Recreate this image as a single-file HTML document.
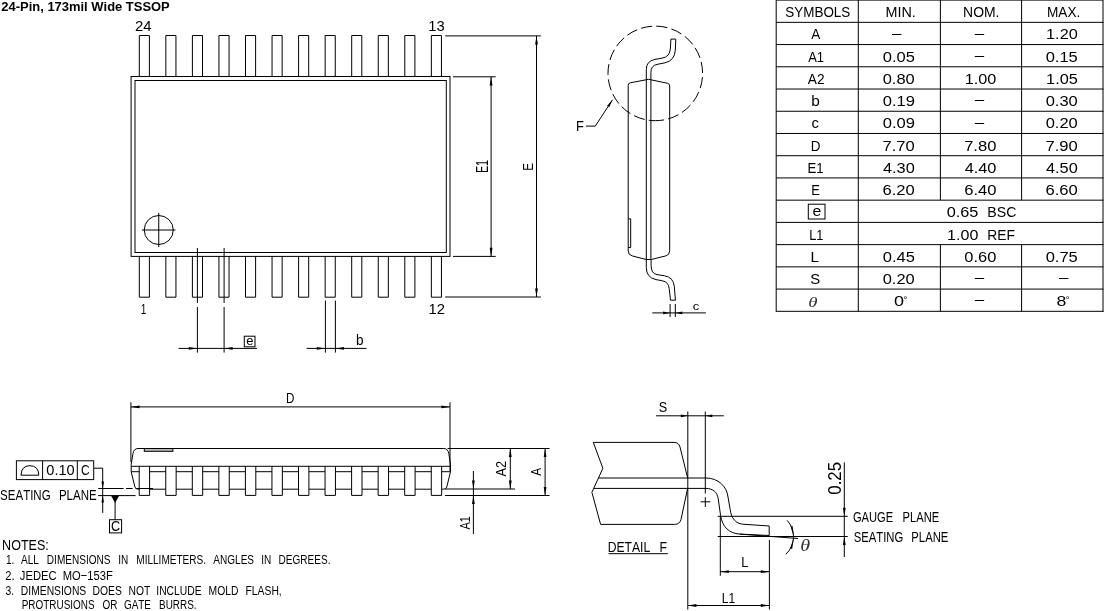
<!DOCTYPE html>
<html lang="en">
<head>
<meta charset="utf-8">
<title>24-Pin, 173mil Wide TSSOP</title>
<style>
html,body{margin:0;padding:0;background:#fff;}
body{width:1104px;height:611px;overflow:hidden;}
svg{display:block;filter:grayscale(1);}
svg g{fill:none;stroke:#000;stroke-width:1;}
svg text{stroke:none;font-kerning:none;white-space:pre;}
</style>
</head>
<body>
<svg width="1104" height="611" viewBox="0 0 1104 611">
<rect x="0" y="0" width="1104" height="611" fill="#fff" stroke="none"/>
<text transform="translate(1.80 10.90) rotate(0) scale(0.9898 1)" x="-0.46" y="0" font-size="13.09" fill="#000" font-family='"Liberation Sans", sans-serif' font-weight="bold">24-Pin, 173mil Wide TSSOP</text>
<g id="topview">
<rect x="131.10" y="76.50" width="318.90" height="179.90"/>
<rect x="135.00" y="80.50" width="311.30" height="172.00"/>
<path d="M139.30 76.5V35.5H149.40V76.5"/>
<path d="M139.30 256.3V297.2H149.40V256.3"/>
<path d="M165.85 76.5V35.5H175.95V76.5"/>
<path d="M165.85 256.3V297.2H175.95V256.3"/>
<path d="M192.40 76.5V35.5H202.50V76.5"/>
<path d="M192.40 256.3V297.2H202.50V256.3"/>
<path d="M218.95 76.5V35.5H229.05V76.5"/>
<path d="M218.95 256.3V297.2H229.05V256.3"/>
<path d="M245.50 76.5V35.5H255.60V76.5"/>
<path d="M245.50 256.3V297.2H255.60V256.3"/>
<path d="M272.05 76.5V35.5H282.15V76.5"/>
<path d="M272.05 256.3V297.2H282.15V256.3"/>
<path d="M298.60 76.5V35.5H308.70V76.5"/>
<path d="M298.60 256.3V297.2H308.70V256.3"/>
<path d="M325.15 76.5V35.5H335.25V76.5"/>
<path d="M325.15 256.3V297.2H335.25V256.3"/>
<path d="M351.70 76.5V35.5H361.80V76.5"/>
<path d="M351.70 256.3V297.2H361.80V256.3"/>
<path d="M378.25 76.5V35.5H388.35V76.5"/>
<path d="M378.25 256.3V297.2H388.35V256.3"/>
<path d="M404.80 76.5V35.5H414.90V76.5"/>
<path d="M404.80 256.3V297.2H414.90V256.3"/>
<path d="M431.35 76.5V35.5H441.45V76.5"/>
<path d="M431.35 256.3V297.2H441.45V256.3"/>
<circle cx="158.75" cy="230" r="14.5"/>
<line x1="142.00" y1="230.00" x2="175.50" y2="230.00"/>
<line x1="158.75" y1="213.00" x2="158.75" y2="247.00"/>
<line x1="453.00" y1="76.80" x2="495.70" y2="76.80"/>
<line x1="453.00" y1="256.40" x2="495.70" y2="256.40"/>
<line x1="491.10" y1="76.80" x2="491.10" y2="256.40"/>
<polygon points="491.10,76.80 492.50,85.40 489.70,85.40" fill="#000" stroke="none"/>
<polygon points="491.10,256.40 489.70,247.80 492.50,247.80" fill="#000" stroke="none"/>
<line x1="445.20" y1="35.90" x2="540.80" y2="35.90"/>
<line x1="445.20" y1="297.00" x2="540.80" y2="297.00"/>
<line x1="536.50" y1="35.90" x2="536.50" y2="297.00"/>
<polygon points="536.50,35.90 537.90,44.50 535.10,44.50" fill="#000" stroke="none"/>
<polygon points="536.50,297.00 535.10,288.40 537.90,288.40" fill="#000" stroke="none"/>
<line x1="197.40" y1="248.00" x2="197.40" y2="303.00"/>
<line x1="197.40" y1="307.00" x2="197.40" y2="352.60"/>
<line x1="224.10" y1="248.00" x2="224.10" y2="303.00"/>
<line x1="224.10" y1="307.00" x2="224.10" y2="352.60"/>
<line x1="178.60" y1="348.40" x2="257.00" y2="348.40"/>
<polygon points="197.40,348.40 188.80,349.80 188.80,347.00" fill="#000" stroke="none"/>
<polygon points="224.10,348.40 232.70,347.00 232.70,349.80" fill="#000" stroke="none"/>
<rect x="244.30" y="336.20" width="10.70" height="10.60"/>
<line x1="325.40" y1="300.50" x2="325.40" y2="352.60"/>
<line x1="335.40" y1="300.50" x2="335.40" y2="352.60"/>
<line x1="306.70" y1="348.40" x2="366.50" y2="348.40"/>
<polygon points="325.40,348.40 316.80,349.80 316.80,347.00" fill="#000" stroke="none"/>
<polygon points="335.40,348.40 344.00,347.00 344.00,349.80" fill="#000" stroke="none"/>
</g>
<text transform="translate(135.70 31.40) rotate(0) scale(0.9766 1)" x="-0.76" y="0" font-size="15.27" fill="#000" font-family='"Liberation Sans", sans-serif'>24</text>
<text transform="translate(429.30 31.40) rotate(0) scale(0.9698 1)" x="-1.15" y="0" font-size="15.27" fill="#000" font-family='"Liberation Sans", sans-serif'>13</text>
<text transform="translate(141.60 313.60) rotate(0) scale(0.6661 1)" x="-1.15" y="0" font-size="15.27" fill="#000" font-family='"Liberation Sans", sans-serif'>1</text>
<text transform="translate(429.70 313.60) rotate(0) scale(0.9705 1)" x="-1.15" y="0" font-size="15.27" fill="#000" font-family='"Liberation Sans", sans-serif'>12</text>
<text transform="translate(487.90 172.20) rotate(-90) scale(0.6751 1)" x="-1.32" y="0" font-size="16.00" fill="#000" font-family='"Liberation Sans", sans-serif'>E1</text>
<text transform="translate(532.90 169.70) rotate(-90) scale(0.7532 1)" x="-1.27" y="0" font-size="15.42" fill="#000" font-family='"Liberation Sans", sans-serif'>E</text>
<text transform="translate(246.80 344.87) rotate(0) scale(1.0151 1)" x="-0.54" y="0" font-size="12.79" fill="#000" font-family='"Liberation Sans", sans-serif'>e</text>
<text transform="translate(356.80 344.56) rotate(0) scale(0.9673 1)" x="-0.91" y="0" font-size="14.01" fill="#000" font-family='"Liberation Sans", sans-serif'>b</text>
<g id="endview">
<circle cx="655.3" cy="73.4" r="47.3" stroke-dasharray="11.2 4.2" stroke-dashoffset="4.65" transform="rotate(90 655.3 73.4)"/>
<path d="M628.2 250.8V85.3Q628.2 83.2 630.3 82.8L648.6 79.3L667.6 83.3Q669.7 83.8 669.7 86V250.8Q669.7 255.0 665.7 255.9L651.3 259.5H646.2L632.2 255.9Q628.2 255.0 628.2 250.8Z"/>
<path d="M628.2 218.8H630.7V247.5H628.2"/>
<path d="M646.3 259V69.5Q646.3 61 655 59.4L662 58.2Q670.2 56.8 670.4 48L670.9 39.1H675.8L675.3 50Q674.8 60.5 665 62.8L657 64.4Q650.9 65.6 650.9 72.5V259"/>
<path d="M646.3 259V267.5Q646.3 277.5 656 279.6L662.5 280.8Q668.5 282 669.2 288.5L670.5 300.2H675.4L674.3 286.5Q673.5 277.3 664.5 275.8L657 274.6Q651.1 273.6 651.1 265.4V259"/>
<line x1="586.00" y1="126.10" x2="595.30" y2="126.10"/>
<line x1="595.30" y1="126.10" x2="612.50" y2="99.80"/>
<line x1="670.10" y1="304.00" x2="670.10" y2="317.00"/>
<line x1="675.30" y1="304.00" x2="675.30" y2="317.00"/>
<line x1="652.30" y1="312.90" x2="705.90" y2="312.90"/>
<polygon points="670.10,312.90 663.10,314.30 663.10,311.50" fill="#000" stroke="none"/>
<polygon points="675.30,312.90 682.30,311.50 682.30,314.30" fill="#000" stroke="none"/>
</g>
<polygon points="612.50,99.80 609.17,107.18 607.08,105.81" fill="#000" stroke="none"/>
<text transform="translate(577.10 131.30) rotate(0) scale(0.8710 1)" x="-1.22" y="0" font-size="14.84" fill="#000" font-family='"Liberation Sans", sans-serif'>F</text>
<text transform="translate(693.20 310.48) rotate(0) scale(1.1318 1)" x="-0.49" y="0" font-size="11.51" fill="#000" font-family='"Liberation Sans", sans-serif'>c</text>
<g id="table">
<line x1="776.20" y1="0.10" x2="1103.00" y2="0.10"/>
<line x1="776.20" y1="22.33" x2="1103.50" y2="22.33"/>
<line x1="776.20" y1="44.56" x2="1103.50" y2="44.56"/>
<line x1="776.20" y1="66.79" x2="1103.50" y2="66.79"/>
<line x1="776.20" y1="89.02" x2="1103.50" y2="89.02"/>
<line x1="776.20" y1="111.25" x2="1103.50" y2="111.25"/>
<line x1="776.20" y1="133.48" x2="1103.50" y2="133.48"/>
<line x1="776.20" y1="155.71" x2="1103.50" y2="155.71"/>
<line x1="776.20" y1="177.94" x2="1103.50" y2="177.94"/>
<line x1="776.20" y1="200.17" x2="1103.50" y2="200.17"/>
<line x1="776.20" y1="222.40" x2="1103.50" y2="222.40"/>
<line x1="776.20" y1="244.63" x2="1103.50" y2="244.63"/>
<line x1="776.20" y1="266.86" x2="1103.50" y2="266.86"/>
<line x1="776.20" y1="289.09" x2="1103.50" y2="289.09"/>
<line x1="776.20" y1="311.32" x2="1103.50" y2="311.32"/>
<line x1="776.20" y1="0.00" x2="776.20" y2="311.82"/>
<line x1="1103.00" y1="0.00" x2="1103.00" y2="311.82"/>
<line x1="858.30" y1="0.00" x2="858.30" y2="311.32"/>
<line x1="940.40" y1="0.00" x2="940.40" y2="200.17"/>
<line x1="940.40" y1="244.63" x2="940.40" y2="311.32"/>
<line x1="1021.60" y1="0.00" x2="1021.60" y2="200.17"/>
<line x1="1021.60" y1="244.63" x2="1021.60" y2="311.32"/>
</g>
<text transform="translate(785.90 17.22) rotate(0) scale(0.8893 1)" x="-0.68" y="0" font-size="15.13" fill="#000" font-family='"Liberation Sans", sans-serif'>SYMBOLS</text>
<text transform="translate(886.70 17.22) rotate(0) scale(0.9485 1)" x="-1.25" y="0" font-size="15.13" fill="#000" font-family='"Liberation Sans", sans-serif'>MIN.</text>
<text transform="translate(964.20 17.22) rotate(0) scale(0.9221 1)" x="-1.25" y="0" font-size="15.13" fill="#000" font-family='"Liberation Sans", sans-serif'>NOM.</text>
<text transform="translate(1048.10 17.22) rotate(0) scale(0.9018 1)" x="-1.25" y="0" font-size="15.13" fill="#000" font-family='"Liberation Sans", sans-serif'>MAX.</text>
<text transform="translate(811.30 39.45) rotate(0) scale(0.8980 1)" x="-0.04" y="0" font-size="15.13" fill="#000" font-family='"Liberation Sans", sans-serif'>A</text>
<text transform="translate(892.00 37.61) rotate(0) scale(1.1416 1)" x="-0.00" y="0" font-size="14.84" fill="#000" font-family='"Liberation Sans", sans-serif'>–</text>
<text transform="translate(974.70 37.61) rotate(0) scale(1.1416 1)" x="-0.00" y="0" font-size="14.84" fill="#000" font-family='"Liberation Sans", sans-serif'>–</text>
<text transform="translate(1047.30 39.45) rotate(0) scale(1.0750 1)" x="-1.13" y="0" font-size="15.13" fill="#000" font-family='"Liberation Sans", sans-serif'>1.20</text>
<text transform="translate(808.20 61.67) rotate(0) scale(0.8570 1)" x="-0.04" y="0" font-size="15.13" fill="#000" font-family='"Liberation Sans", sans-serif'>A1</text>
<text transform="translate(883.35 61.67) rotate(0) scale(1.0917 1)" x="-0.61" y="0" font-size="15.13" fill="#000" font-family='"Liberation Sans", sans-serif'>0.05</text>
<text transform="translate(974.70 59.84) rotate(0) scale(1.1416 1)" x="-0.00" y="0" font-size="14.84" fill="#000" font-family='"Liberation Sans", sans-serif'>–</text>
<text transform="translate(1046.30 61.67) rotate(0) scale(1.0917 1)" x="-0.61" y="0" font-size="15.13" fill="#000" font-family='"Liberation Sans", sans-serif'>0.15</text>
<text transform="translate(807.80 83.91) rotate(0) scale(0.9040 1)" x="-0.04" y="0" font-size="15.13" fill="#000" font-family='"Liberation Sans", sans-serif'>A2</text>
<text transform="translate(883.35 83.91) rotate(0) scale(1.0903 1)" x="-0.61" y="0" font-size="15.13" fill="#000" font-family='"Liberation Sans", sans-serif'>0.80</text>
<text transform="translate(966.00 83.91) rotate(0) scale(1.0750 1)" x="-1.13" y="0" font-size="15.13" fill="#000" font-family='"Liberation Sans", sans-serif'>1.00</text>
<text transform="translate(1047.30 83.91) rotate(0) scale(1.0765 1)" x="-1.13" y="0" font-size="15.13" fill="#000" font-family='"Liberation Sans", sans-serif'>1.05</text>
<text transform="translate(812.20 105.96) rotate(0) scale(1.0942 1)" x="-0.91" y="0" font-size="14.01" fill="#000" font-family='"Liberation Sans", sans-serif'>b</text>
<text transform="translate(883.35 106.13) rotate(0) scale(1.0947 1)" x="-0.61" y="0" font-size="15.13" fill="#000" font-family='"Liberation Sans", sans-serif'>0.19</text>
<text transform="translate(974.70 104.30) rotate(0) scale(1.1416 1)" x="-0.00" y="0" font-size="14.84" fill="#000" font-family='"Liberation Sans", sans-serif'>–</text>
<text transform="translate(1046.30 106.13) rotate(0) scale(1.0903 1)" x="-0.61" y="0" font-size="15.13" fill="#000" font-family='"Liberation Sans", sans-serif'>0.30</text>
<text transform="translate(812.20 128.05) rotate(0) scale(1.0186 1)" x="-0.62" y="0" font-size="14.61" fill="#000" font-family='"Liberation Sans", sans-serif'>c</text>
<text transform="translate(883.35 128.37) rotate(0) scale(1.0947 1)" x="-0.61" y="0" font-size="15.13" fill="#000" font-family='"Liberation Sans", sans-serif'>0.09</text>
<text transform="translate(974.70 126.53) rotate(0) scale(1.1416 1)" x="-0.00" y="0" font-size="14.84" fill="#000" font-family='"Liberation Sans", sans-serif'>–</text>
<text transform="translate(1046.30 128.37) rotate(0) scale(1.0903 1)" x="-0.61" y="0" font-size="15.13" fill="#000" font-family='"Liberation Sans", sans-serif'>0.20</text>
<text transform="translate(811.80 150.59) rotate(0) scale(0.8926 1)" x="-1.25" y="0" font-size="15.13" fill="#000" font-family='"Liberation Sans", sans-serif'>D</text>
<text transform="translate(883.35 150.59) rotate(0) scale(1.0976 1)" x="-0.79" y="0" font-size="15.13" fill="#000" font-family='"Liberation Sans", sans-serif'>7.70</text>
<text transform="translate(965.00 150.59) rotate(0) scale(1.0976 1)" x="-0.79" y="0" font-size="15.13" fill="#000" font-family='"Liberation Sans", sans-serif'>7.80</text>
<text transform="translate(1046.30 150.59) rotate(0) scale(1.0976 1)" x="-0.79" y="0" font-size="15.13" fill="#000" font-family='"Liberation Sans", sans-serif'>7.90</text>
<text transform="translate(808.60 172.82) rotate(0) scale(0.8713 1)" x="-1.25" y="0" font-size="15.13" fill="#000" font-family='"Liberation Sans", sans-serif'>E1</text>
<text transform="translate(883.35 172.82) rotate(0) scale(1.0801 1)" x="-0.34" y="0" font-size="15.13" fill="#000" font-family='"Liberation Sans", sans-serif'>4.30</text>
<text transform="translate(965.00 172.82) rotate(0) scale(1.0801 1)" x="-0.34" y="0" font-size="15.13" fill="#000" font-family='"Liberation Sans", sans-serif'>4.40</text>
<text transform="translate(1046.30 172.82) rotate(0) scale(1.0801 1)" x="-0.34" y="0" font-size="15.13" fill="#000" font-family='"Liberation Sans", sans-serif'>4.50</text>
<text transform="translate(812.30 195.06) rotate(0) scale(0.8530 1)" x="-1.25" y="0" font-size="15.13" fill="#000" font-family='"Liberation Sans", sans-serif'>E</text>
<text transform="translate(883.35 195.06) rotate(0) scale(1.0961 1)" x="-0.76" y="0" font-size="15.13" fill="#000" font-family='"Liberation Sans", sans-serif'>6.20</text>
<text transform="translate(965.00 195.06) rotate(0) scale(1.0961 1)" x="-0.76" y="0" font-size="15.13" fill="#000" font-family='"Liberation Sans", sans-serif'>6.40</text>
<text transform="translate(1046.30 195.06) rotate(0) scale(1.0961 1)" x="-0.76" y="0" font-size="15.13" fill="#000" font-family='"Liberation Sans", sans-serif'>6.60</text>
<rect x="808.3" y="204.2" width="16.7" height="14.8" fill="none" stroke="#000"/>
<text transform="translate(813.20 216.06) rotate(0) scale(1.1201 1)" x="-0.61" y="0" font-size="14.25" fill="#000" font-family='"Liberation Sans", sans-serif'>e</text>
<text transform="translate(947.30 217.48) rotate(0) scale(1.0987 1)" x="-0.59" y="0" font-size="14.84" fill="#000" font-family='"Liberation Sans", sans-serif'>0.65</text>
<text transform="translate(988.50 217.48) rotate(0) scale(0.9544 1)" x="-1.22" y="0" font-size="14.84" fill="#000" font-family='"Liberation Sans", sans-serif'>BSC</text>
<text transform="translate(810.25 239.51) rotate(0) scale(0.8432 1)" x="-1.25" y="0" font-size="15.13" fill="#000" font-family='"Liberation Sans", sans-serif'>L1</text>
<text transform="translate(948.30 239.71) rotate(0) scale(1.0814 1)" x="-1.11" y="0" font-size="14.84" fill="#000" font-family='"Liberation Sans", sans-serif'>1.00</text>
<text transform="translate(988.50 239.71) rotate(0) scale(0.9334 1)" x="-1.22" y="0" font-size="14.84" fill="#000" font-family='"Liberation Sans", sans-serif'>REF</text>
<text transform="translate(811.85 261.75) rotate(0) scale(1.0066 1)" x="-1.25" y="0" font-size="15.13" fill="#000" font-family='"Liberation Sans", sans-serif'>L</text>
<text transform="translate(883.35 261.75) rotate(0) scale(1.0917 1)" x="-0.61" y="0" font-size="15.13" fill="#000" font-family='"Liberation Sans", sans-serif'>0.45</text>
<text transform="translate(965.00 261.75) rotate(0) scale(1.0903 1)" x="-0.61" y="0" font-size="15.13" fill="#000" font-family='"Liberation Sans", sans-serif'>0.60</text>
<text transform="translate(1046.30 261.75) rotate(0) scale(1.0917 1)" x="-0.61" y="0" font-size="15.13" fill="#000" font-family='"Liberation Sans", sans-serif'>0.75</text>
<text transform="translate(811.00 283.98) rotate(0) scale(0.9887 1)" x="-0.68" y="0" font-size="15.13" fill="#000" font-family='"Liberation Sans", sans-serif'>S</text>
<text transform="translate(883.35 283.98) rotate(0) scale(1.0903 1)" x="-0.61" y="0" font-size="15.13" fill="#000" font-family='"Liberation Sans", sans-serif'>0.20</text>
<text transform="translate(974.70 282.14) rotate(0) scale(1.1416 1)" x="-0.00" y="0" font-size="14.84" fill="#000" font-family='"Liberation Sans", sans-serif'>–</text>
<text transform="translate(1058.90 282.14) rotate(0) scale(1.1416 1)" x="-0.00" y="0" font-size="14.84" fill="#000" font-family='"Liberation Sans", sans-serif'>–</text>
<text transform="translate(809.30 307.06) rotate(0) scale(1.3171 1)" x="-0.72" y="0" font-size="14.37" fill="#333" font-family='"Liberation Serif", serif' font-style="italic">θ</text>
<text transform="translate(894.80 306.31) scale(1.2139 1)" font-size="14.84" fill="#000" font-family='"Liberation Sans", sans-serif'><tspan x="-0.59" y="0">0</tspan><tspan x="7.05" y="-3.5" font-size="8.73">°</tspan></text>
<text transform="translate(974.70 304.37) rotate(0) scale(1.1416 1)" x="-0.00" y="0" font-size="14.84" fill="#000" font-family='"Liberation Sans", sans-serif'>–</text>
<text transform="translate(1057.30 306.31) scale(1.1903 1)" font-size="14.84" fill="#000" font-family='"Liberation Sans", sans-serif'><tspan x="-0.63" y="0">8</tspan><tspan x="6.95" y="-3.5" font-size="8.73">°</tspan></text>
<g id="sideview">
<line x1="130.90" y1="402.30" x2="130.90" y2="462.00"/>
<line x1="450.00" y1="402.30" x2="450.00" y2="471.00"/>
<line x1="130.90" y1="406.90" x2="450.00" y2="406.90"/>
<polygon points="130.90,406.90 139.50,405.50 139.50,408.30" fill="#000" stroke="none"/>
<polygon points="450.00,406.90 441.40,408.30 441.40,405.50" fill="#000" stroke="none"/>
<path d="M138.5 489.2Q135.6 489.2 134.9 487L131.2 471.7V464.5L133.0 453.5Q133.9 448.5 138.0 448.5H443.8Q447.9 448.5 448.8 453.5L450.5 464.5V471.7L446.8 487Q446.1 489.2 443.2 489.2"/>
<rect x="144.3" y="448.5" width="28.6" height="2.8" fill="#bbb" stroke="#000"/>
<line x1="131.20" y1="466.30" x2="450.50" y2="466.30"/>
<line x1="131.20" y1="471.70" x2="139.20" y2="471.70"/>
<line x1="149.60" y1="471.70" x2="165.75" y2="471.70"/>
<line x1="176.15" y1="471.70" x2="192.30" y2="471.70"/>
<line x1="202.70" y1="471.70" x2="218.85" y2="471.70"/>
<line x1="229.25" y1="471.70" x2="245.40" y2="471.70"/>
<line x1="255.80" y1="471.70" x2="271.95" y2="471.70"/>
<line x1="282.35" y1="471.70" x2="298.50" y2="471.70"/>
<line x1="308.90" y1="471.70" x2="325.05" y2="471.70"/>
<line x1="335.45" y1="471.70" x2="351.60" y2="471.70"/>
<line x1="362.00" y1="471.70" x2="378.15" y2="471.70"/>
<line x1="388.55" y1="471.70" x2="404.70" y2="471.70"/>
<line x1="415.10" y1="471.70" x2="431.25" y2="471.70"/>
<line x1="441.65" y1="471.70" x2="450.50" y2="471.70"/>
<line x1="149.60" y1="489.20" x2="165.75" y2="489.20"/>
<line x1="176.15" y1="489.20" x2="192.30" y2="489.20"/>
<line x1="202.70" y1="489.20" x2="218.85" y2="489.20"/>
<line x1="229.25" y1="489.20" x2="245.40" y2="489.20"/>
<line x1="255.80" y1="489.20" x2="271.95" y2="489.20"/>
<line x1="282.35" y1="489.20" x2="298.50" y2="489.20"/>
<line x1="308.90" y1="489.20" x2="325.05" y2="489.20"/>
<line x1="335.45" y1="489.20" x2="351.60" y2="489.20"/>
<line x1="362.00" y1="489.20" x2="378.15" y2="489.20"/>
<line x1="388.55" y1="489.20" x2="404.70" y2="489.20"/>
<line x1="415.10" y1="489.20" x2="431.25" y2="489.20"/>
<line x1="138.50" y1="489.20" x2="139.20" y2="489.20"/>
<line x1="441.65" y1="489.20" x2="443.20" y2="489.20"/>
<path d="M139.20 466.3V495.4H149.60V466.3"/>
<path d="M165.75 466.3V495.4H176.15V466.3"/>
<path d="M192.30 466.3V495.4H202.70V466.3"/>
<path d="M218.85 466.3V495.4H229.25V466.3"/>
<path d="M245.40 466.3V495.4H255.80V466.3"/>
<path d="M271.95 466.3V495.4H282.35V466.3"/>
<path d="M298.50 466.3V495.4H308.90V466.3"/>
<path d="M325.05 466.3V495.4H335.45V466.3"/>
<path d="M351.60 466.3V495.4H362.00V466.3"/>
<path d="M378.15 466.3V495.4H388.55V466.3"/>
<path d="M404.70 466.3V495.4H415.10V466.3"/>
<path d="M431.25 466.3V495.4H441.65V466.3"/>
<line x1="98.30" y1="488.50" x2="123.60" y2="488.50"/>
<line x1="126.00" y1="488.50" x2="132.60" y2="488.50"/>
<line x1="135.50" y1="488.50" x2="153.00" y2="488.50"/>
<line x1="98.00" y1="495.60" x2="135.60" y2="495.60"/>
<rect x="16.40" y="460.80" width="77.30" height="18.80"/>
<line x1="42.60" y1="460.80" x2="42.60" y2="479.60"/>
<line x1="77.30" y1="460.80" x2="77.30" y2="479.60"/>
<path d="M21 475.2H38.8Q38.5 465.7 29.9 465.7Q21.3 465.7 21 475.2Z"/>
<path d="M93.7 468.2H102.7V512.9"/>
<polygon points="102.70,488.50 101.40,481.50 104.00,481.50" fill="#000" stroke="none"/>
<polygon points="102.70,495.60 104.00,502.60 101.40,502.60" fill="#000" stroke="none"/>
<polygon points="111.0,495.4 119.2,495.4 115.1,503.0" fill="#000" stroke="none"/>
<line x1="115.10" y1="502.00" x2="115.10" y2="519.70"/>
<rect x="109.50" y="519.70" width="12.10" height="13.20"/>
<line x1="447.60" y1="448.50" x2="549.50" y2="448.50"/>
<line x1="445.00" y1="489.00" x2="515.00" y2="489.00"/>
<line x1="445.00" y1="495.50" x2="549.50" y2="495.50"/>
<line x1="510.30" y1="448.50" x2="510.30" y2="489.00"/>
<polygon points="510.30,448.50 511.70,457.00 508.90,457.00" fill="#000" stroke="none"/>
<polygon points="510.30,489.00 508.90,480.50 511.70,480.50" fill="#000" stroke="none"/>
<line x1="545.10" y1="448.50" x2="545.10" y2="495.50"/>
<polygon points="545.10,448.50 546.50,457.00 543.70,457.00" fill="#000" stroke="none"/>
<polygon points="545.10,495.50 543.70,487.00 546.50,487.00" fill="#000" stroke="none"/>
<line x1="473.40" y1="471.00" x2="473.40" y2="534.00"/>
<polygon points="473.40,489.00 472.00,480.50 474.80,480.50" fill="#000" stroke="none"/>
<polygon points="473.40,495.50 474.80,504.00 472.00,504.00" fill="#000" stroke="none"/>
</g>
<text transform="translate(287.00 403.10) rotate(0) scale(0.7927 1)" x="-1.21" y="0" font-size="14.69" fill="#000" font-family='"Liberation Sans", sans-serif'>D</text>
<text transform="translate(46.90 475.40) rotate(0) scale(1.0115 1)" x="-0.58" y="0" font-size="14.40" fill="#000" font-family='"Liberation Sans", sans-serif'>0.10</text>
<text transform="translate(81.60 475.40) rotate(0) scale(0.8344 1)" x="-0.72" y="0" font-size="14.40" fill="#000" font-family='"Liberation Sans", sans-serif'>C</text>
<text transform="translate(111.60 531.00) rotate(0) scale(0.9058 1)" x="-0.70" y="0" font-size="13.96" fill="#000" font-family='"Liberation Sans", sans-serif'>C</text>
<text transform="translate(0 499.70) scale(0.8088 1)" y="0" font-size="14.25" fill="#000" font-family='"Liberation Sans", sans-serif'><tspan x="0.15">SEATING </tspan><tspan x="72.84">PLANE</tspan></text>
<text transform="translate(506.40 476.50) rotate(-90) scale(0.8526 1)" x="-0.04" y="0" font-size="14.84" fill="#000" font-family='"Liberation Sans", sans-serif'>A2</text>
<text transform="translate(540.80 475.80) rotate(-90) scale(0.7936 1)" x="-0.04" y="0" font-size="14.84" fill="#000" font-family='"Liberation Sans", sans-serif'>A</text>
<text transform="translate(469.80 529.50) rotate(-90) scale(0.7473 1)" x="-0.04" y="0" font-size="14.84" fill="#000" font-family='"Liberation Sans", sans-serif'>A1</text>
<text transform="translate(3.10 549.70) rotate(0) scale(0.8637 1)" x="-1.20" y="0" font-size="14.55" fill="#000" font-family='"Liberation Sans", sans-serif'>NOTES:</text>
<text transform="translate(0 563.50) scale(0.7432 1)" y="0" font-size="13.53" fill="#000" font-family='"Liberation Sans", sans-serif'><tspan x="7.99">1. </tspan><tspan x="28.34">ALL </tspan><tspan x="63.08">DIMENSIONS </tspan><tspan x="159.00">IN </tspan><tspan x="183.36">MILLIMETERS. </tspan><tspan x="287.03">ANGLES </tspan><tspan x="351.47">IN </tspan><tspan x="374.80">DEGREES.</tspan></text>
<text transform="translate(0 580.10) scale(0.8282 1)" y="0" font-size="13.53" fill="#000" font-family='"Liberation Sans", sans-serif'><tspan x="6.23">2. </tspan><tspan x="24.00">JEDEC </tspan><tspan x="75.71">MO−153F</tspan></text>
<text transform="translate(0 594.90) scale(0.7644 1)" y="0" font-size="13.53" fill="#000" font-family='"Liberation Sans", sans-serif'><tspan x="7.28">3. </tspan><tspan x="27.23">DIMENSIONS </tspan><tspan x="121.09">DOES </tspan><tspan x="168.01">NOT </tspan><tspan x="204.46">INCLUDE </tspan><tspan x="272.86">MOLD </tspan><tspan x="321.22">FLASH,</tspan></text>
<text transform="translate(0 608.90) scale(0.7345 1)" y="0" font-size="13.53" fill="#000" font-family='"Liberation Sans", sans-serif'><tspan x="29.59">PROTRUSIONS </tspan><tspan x="139.68">OR </tspan><tspan x="168.73">GATE </tspan><tspan x="216.50">BURRS.</tspan></text>
<g id="detail">
<path d="M593.3 442.4H674.0Q678.8 442.4 680.0 447.0L687.6 477.9"/>
<path d="M593.3 442.4L602.9 468.3L591.9 492.3L600.6 524.4H674.5Q679.8 524.4 681.0 519.5L687.6 488.4"/>
<path d="M598.5 478.0H706C718.1 478.0 727.0 486.5 728 497L730.2 509.5C731.2 518 735.5 523.5 742.7 524.2L769.2 526V535.5L739.8 534.1C729 533.4 722.5 527 720.6 515.7L718.2 498.5C717.2 492 712.5 488.4 706 488.4H593.7"/>
<line x1="739.80" y1="534.10" x2="798.00" y2="538.50"/>
<line x1="717.70" y1="516.30" x2="847.80" y2="516.30"/>
<line x1="717.70" y1="536.50" x2="847.80" y2="536.50"/>
<line x1="687.80" y1="411.50" x2="687.80" y2="609.50"/>
<line x1="705.30" y1="411.50" x2="705.30" y2="493.50"/>
<line x1="656.00" y1="415.80" x2="723.80" y2="415.80"/>
<polygon points="687.80,415.80 680.80,417.20 680.80,414.40" fill="#000" stroke="none"/>
<polygon points="705.30,415.80 712.30,414.40 712.30,417.20" fill="#000" stroke="none"/>
<line x1="700.60" y1="501.80" x2="710.40" y2="501.80"/>
<line x1="705.30" y1="497.20" x2="705.30" y2="507.00"/>
<line x1="720.30" y1="516.30" x2="720.30" y2="575.80"/>
<line x1="769.40" y1="540.00" x2="769.40" y2="609.50"/>
<line x1="720.30" y1="571.70" x2="769.40" y2="571.70"/>
<polygon points="720.30,571.70 728.90,570.30 728.90,573.10" fill="#000" stroke="none"/>
<polygon points="769.40,571.70 760.80,573.10 760.80,570.30" fill="#000" stroke="none"/>
<line x1="687.80" y1="605.50" x2="769.40" y2="605.50"/>
<polygon points="687.80,605.50 696.40,604.10 696.40,606.90" fill="#000" stroke="none"/>
<polygon points="769.40,605.50 760.80,606.90 760.80,604.10" fill="#000" stroke="none"/>
<path d="M787.2 520.4A24 24 0 0 1 785.9 554.2"/>
<path d="M793.5 536.0L790.6 526.6L792.6 526.0Z" fill="#000" stroke="none"/>
<path d="M793.5 538.6L790.2 548.2L792.2 548.9Z" fill="#000" stroke="none"/>
<line x1="844.30" y1="462.40" x2="844.30" y2="557.00"/>
<polygon points="844.30,516.30 842.90,507.80 845.70,507.80" fill="#000" stroke="none"/>
<polygon points="844.30,536.50 845.70,545.00 842.90,545.00" fill="#000" stroke="none"/>
<line x1="608.50" y1="553.70" x2="667.80" y2="553.70"/>
</g>
<text transform="translate(659.40 412.30) rotate(0) scale(0.8728 1)" x="-0.65" y="0" font-size="14.55" fill="#000" font-family='"Liberation Sans", sans-serif'>S</text>
<text transform="translate(742.20 567.30) rotate(0) scale(0.8578 1)" x="-1.22" y="0" font-size="14.84" fill="#000" font-family='"Liberation Sans", sans-serif'>L</text>
<text transform="translate(722.80 602.80) rotate(0) scale(0.8116 1)" x="-1.22" y="0" font-size="14.84" fill="#000" font-family='"Liberation Sans", sans-serif'>L1</text>
<text transform="translate(801.20 551.23) rotate(0) scale(1.2106 1)" x="-0.83" y="0" font-size="16.62" fill="#333" font-family='"Liberation Serif", serif' font-style="italic">θ</text>
<text transform="translate(840.80 494.00) rotate(-90) scale(0.9157 1)" x="-0.73" y="0" font-size="18.33" fill="#000" font-family='"Liberation Sans", sans-serif'>0.25</text>
<text transform="translate(0 522.10) scale(0.7819 1)" y="0" font-size="14.25" fill="#000" font-family='"Liberation Sans", sans-serif'><tspan x="1090.86">GAUGE </tspan><tspan x="1154.38">PLANE</tspan></text>
<text transform="translate(0 541.60) scale(0.7918 1)" y="0" font-size="14.25" fill="#000" font-family='"Liberation Sans", sans-serif'><tspan x="1078.29">SEATING </tspan><tspan x="1151.00">PLANE</tspan></text>
<text transform="translate(0 551.70) scale(0.8118 1)" y="0" font-size="14.98" fill="#000" font-family='"Liberation Sans", sans-serif'><tspan x="748.57">DETAIL </tspan><tspan x="812.34">F</tspan></text>
</svg>
</body>
</html>
